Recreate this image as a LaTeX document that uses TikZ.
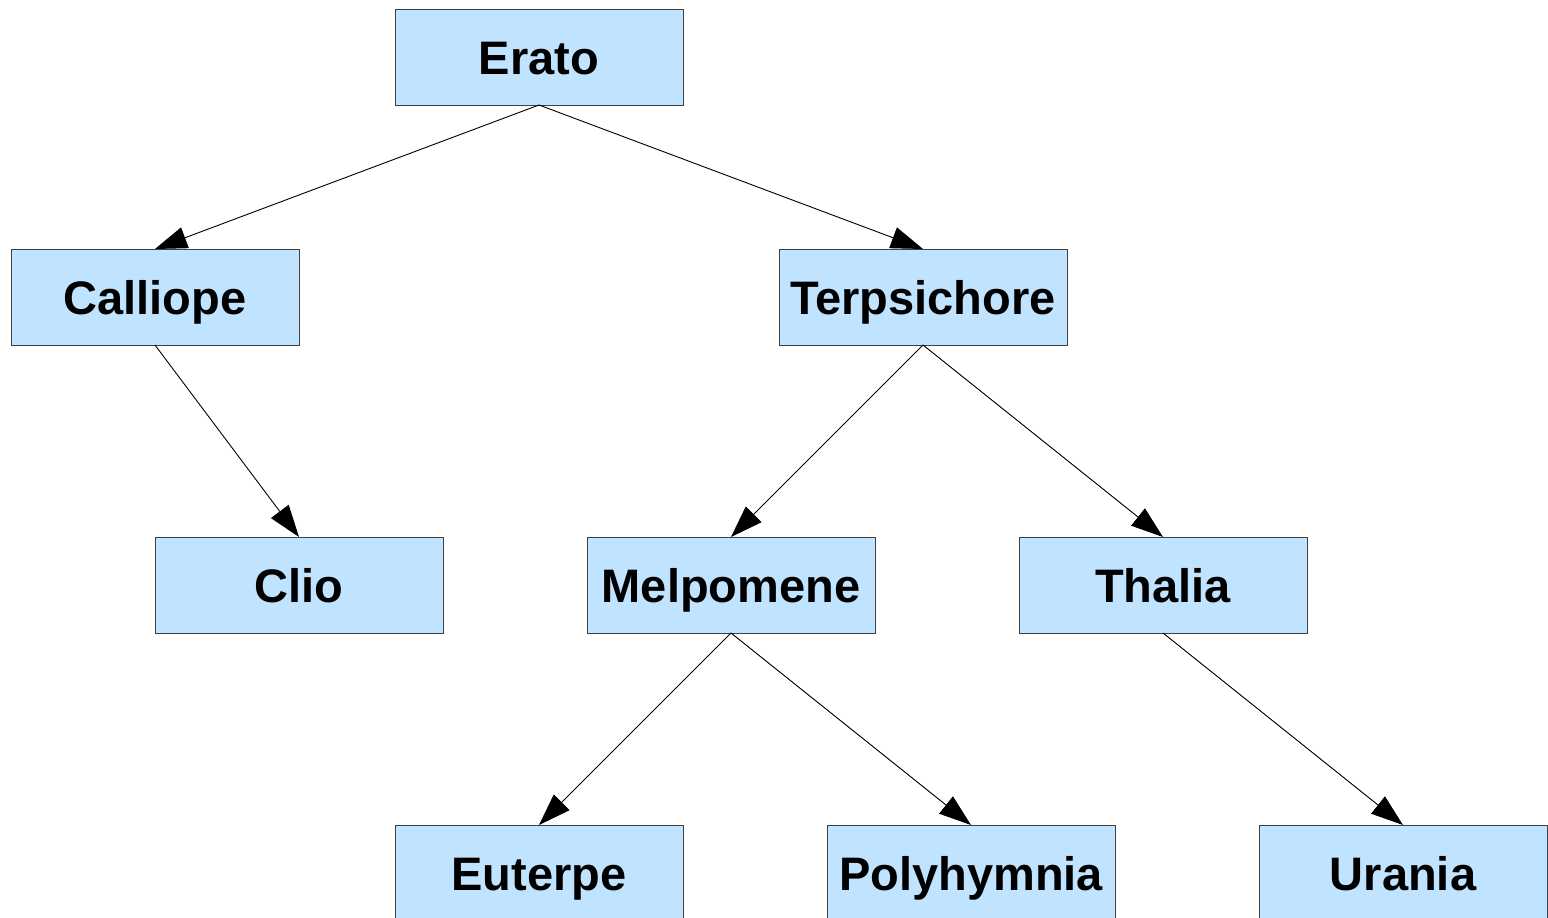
\documentclass[tikz,border=0pt]{standalone}
\usepackage{fontspec}
\setmainfont{Liberation Sans}
\usetikzlibrary{positioning,arrows.meta}

\definecolor{musefill}{RGB}{192,228,255}
\definecolor{museline}{RGB}{64,64,64}

\tikzset{
  muse/.style={draw=museline, line width=0.8pt, fill=musefill, rectangle,
    minimum width=288pt, minimum height=96pt, inner sep=0pt, outer sep=0pt,
    text height=34pt, text depth=0pt,
    font=\fontsize{47}{56}\selectfont\bfseries},
  link/.style={-{Triangle[length=32pt,width=22pt]}, line width=0.9pt, black}
}

\begin{document}
\begin{tikzpicture}
        \useasboundingbox (0,0) rectangle (1548pt,-918pt);
        \node[muse] (erato) at (539pt,-57pt) {Erato};
        \node[muse] (calliope)    [below=144pt of erato, xshift=-384pt] {Calliope};
        \node[muse] (terpsichore) [below=144pt of erato, xshift=384pt] {Terpsichore};
        \node[muse] (clio)        [below=192pt of calliope, xshift=144pt] {Clio};
        \node[muse] (melpomene)   [below=192pt of terpsichore, xshift=-192pt] {Melpomene};
        \node[muse] (thalia)      [below=192pt of terpsichore, xshift=240pt] {Thalia};
        \node[muse] (euterpe)     [below=192pt of melpomene, xshift=-192pt] {Euterpe};
        \node[muse] (polyhymnia)  [below=192pt of melpomene, xshift=240pt] {Polyhymnia};
        \node[muse] (urania)      [below=192pt of thalia, xshift=240pt] {Urania};
        \path[link]
            (erato.south) edge (calliope.north)
            (erato.south) edge (terpsichore.north)
            (calliope.south) edge (clio.north)
            (terpsichore.south) edge (melpomene.north)
            (terpsichore.south) edge (thalia.north)
            (melpomene.south) edge (euterpe.north)
            (melpomene.south) edge (polyhymnia.north)
            (thalia.south) edge (urania.north);
    \end{tikzpicture}
\end{document}
